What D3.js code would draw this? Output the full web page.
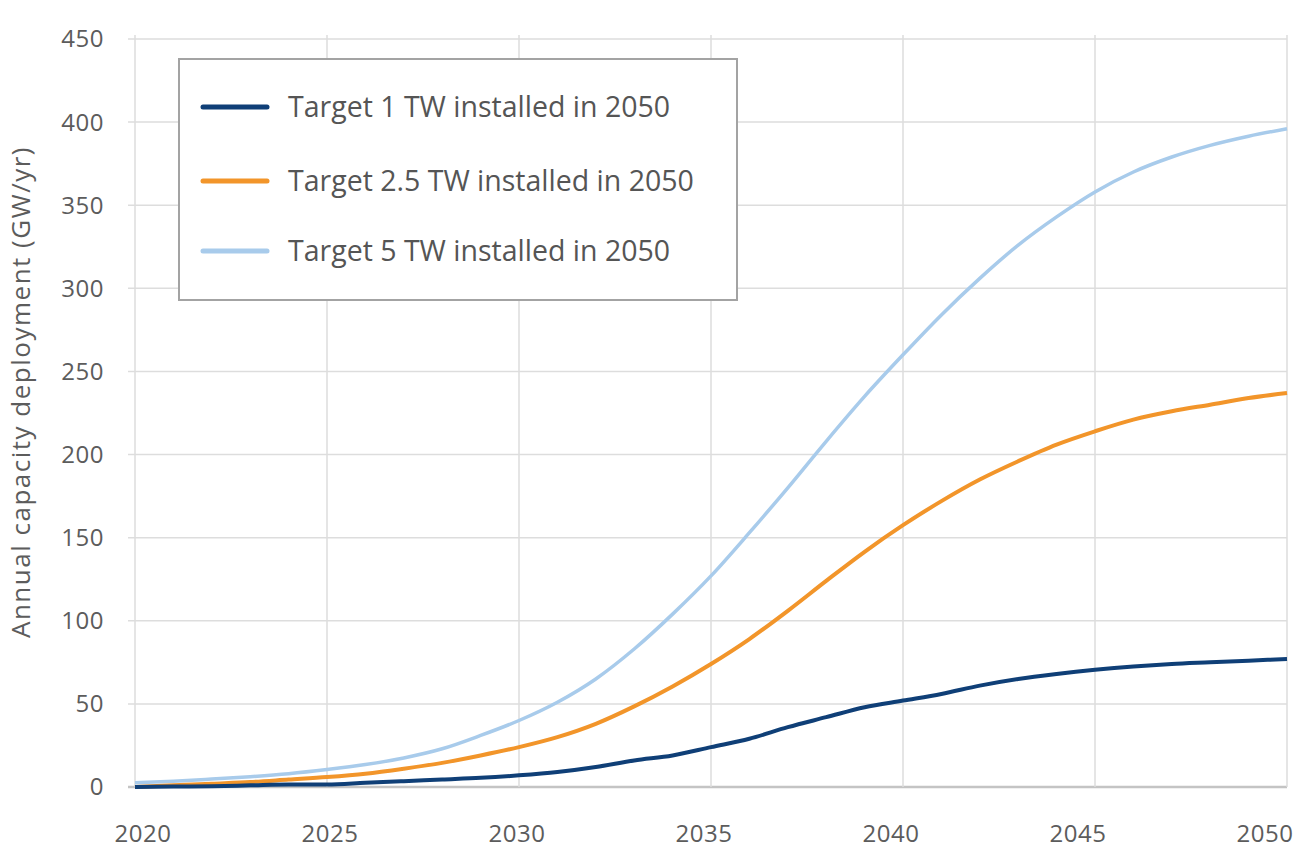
<!DOCTYPE html>
<html>
<head>
<meta charset="utf-8">
<script src="https://cdn.jsdelivr.net/npm/d3@7"></script>
<style>
  body { margin: 0; background: #fff; }
  svg { display: block; font-family: "Open Sans", sans-serif; }
</style>
</head>
<body>
<svg id="chart" width="1297" height="850"></svg>
<script>
// years on the x axis
var years = [2020, 2021, 2022, 2023, 2024, 2025, 2026, 2027, 2028, 2029, 2030,
             2031, 2032, 2033, 2034, 2035, 2036, 2037, 2038, 2039, 2040,
             2041, 2042, 2043, 2044, 2045, 2046, 2047, 2048, 2049, 2050];

// annual deployment, GW/yr
var target1 = [0, 0.3, 0.5, 1, 1.5, 1.5, 2.5, 3.5, 4.5, 5.5, 7,
               9, 12, 16, 19, 24, 29, 36, 42, 48, 52,
               56, 61, 65, 68, 70.5, 72.5, 74, 75, 76, 77];
var target25 = [0, 1, 2, 3, 4.5, 6, 8, 11, 14.5, 19, 24,
                30, 38, 48.5, 60.5, 74, 89, 106, 124, 141.5, 157.5,
                172, 185, 196, 206, 214, 221, 226, 230, 234, 237];
var target5 = [2.5, 3.5, 4.8, 6.2, 8, 10.5, 13.5, 17.5, 23, 31, 40,
               51, 65, 83, 104, 127, 153, 180, 208, 235, 260,
               284, 306, 326, 343, 358, 370, 379, 386, 391.5, 396];

var seriesNames = ['Target 1 TW installed in 2050', 'Target 2.5 TW installed in 2050', 'Target 5 TW installed in 2050'];
var seriesColors = ['#0f3f77', '#f2952a', '#a8cbeb'];
var seriesValues = [target1, target25, target5];

var xTicks = [2020, 2025, 2030, 2035, 2040, 2045, 2050];
var yTicks = [0, 50, 100, 150, 200, 250, 300, 350, 400, 450];

var svg = d3.select('svg#chart');

var x = d3.scaleLinear().domain([2020, 2050]).range([135, 1287]);
var xLab = d3.scaleLinear().domain([2020, 2050]).range([143, 1265]);
var y = d3.scaleLinear().domain([0, 450]).range([787, 39]);

// horizontal grid
svg.append('g')
    .selectAll('line')
    .data(yTicks)
    .enter().append('line')
        .attr('x1', 128)
        .attr('x2', x(2050))
        .attr('y1', function(d) { return y(d); })
        .attr('y2', function(d) { return y(d); })
        .attr('stroke', function(d) { return d === 0 ? '#c4c4c4' : '#dddddd'; })
        .attr('stroke-width', function(d) { return d === 0 ? 2.5 : 1.5; });

// vertical grid
svg.append('g')
    .selectAll('line')
    .data(xTicks)
    .enter().append('line')
        .attr('x1', function(d) { return x(d); })
        .attr('x2', function(d) { return x(d); })
        .attr('y1', y(450) - 4)
        .attr('y2', y(0))
        .attr('stroke', '#dddddd')
        .attr('stroke-width', 1.5);

// y tick labels
svg.append('g')
    .selectAll('text')
    .data(yTicks)
    .enter().append('text')
        .attr('x', 104)
        .attr('y', function(d) { return y(d); })
        .attr('dy', '0.35em')
        .attr('text-anchor', 'end')
        .attr('font-size', 24)
        .attr('letter-spacing', 0.5)
        .attr('fill', '#5c5c5c')
        .text(function(d) { return d; });

// x tick labels
svg.append('g')
    .selectAll('text')
    .data(xTicks)
    .enter().append('text')
        .attr('x', function(d) { return xLab(d); })
        .attr('y', 842)
        .attr('text-anchor', 'middle')
        .attr('font-size', 24)
        .attr('letter-spacing', 0.5)
        .attr('fill', '#5c5c5c')
        .text(function(d) { return d; });

// y axis title
svg.append('text')
    .attr('transform', 'translate(30,392) rotate(-90)')
    .attr('text-anchor', 'middle')
    .attr('font-size', 26)
    .attr('letter-spacing', 1.5)
    .attr('fill', '#5c5c5c')
    .text('Annual capacity deployment (GW/yr)');

// lines
var line = d3.line()
    .x(function(d, i) { return x(years[i]); })
    .y(function(d) { return y(d); })
    .curve(d3.curveMonotoneX);

svg.append('g')
    .selectAll('path')
    .data([2, 1, 0])
    .enter().append('path')
        .attr('d', function(k) { return line(seriesValues[k]); })
        .attr('fill', 'none')
        .attr('stroke', function(k) { return seriesColors[k]; })
        .attr('stroke-width', function(k) { return k === 2 ? 3.5 : 4; })
        .attr('stroke-linejoin', 'round');

// legend
var legend = svg.append('g');
legend.append('rect')
    .attr('x', 179)
    .attr('y', 59)
    .attr('width', 558)
    .attr('height', 241)
    .attr('fill', '#fff')
    .attr('stroke', '#a3a3a3')
    .attr('stroke-width', 2);

var rowY = [107, 181, 251];
var item = legend.selectAll('.item')
    .data(seriesNames)
    .enter().append('g')
        .attr('class', 'item')
        .attr('transform', function(d, i) { return 'translate(0,' + rowY[i] + ')'; });

item.append('line')
    .attr('x1', 203)
    .attr('x2', 267)
    .attr('stroke', function(d, i) { return seriesColors[i]; })
    .attr('stroke-width', 5)
    .attr('stroke-linecap', 'round');

item.append('text')
    .attr('x', 288)
    .attr('dy', '0.35em')
    .attr('font-size', 28.5)
    .attr('fill', '#555')
    .text(function(d) { return d; });
</script>
</body>
</html>
